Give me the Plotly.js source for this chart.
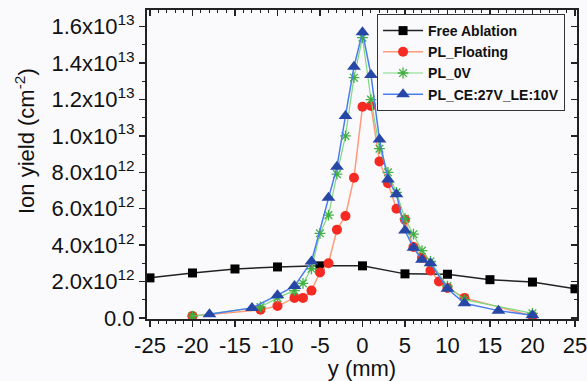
<!DOCTYPE html>
<html><head><meta charset="utf-8">
<script src="https://cdn.plot.ly/plotly-3.0.1.min.js"></script>
<style>html,body{margin:0;padding:0;background:#fafafc;}</style>
</head><body><div id="chart" style="width:587px;height:381px;"></div>
<script>
// Free Ablation
const freeX = [-25,-20,-15,-10,-5,0,5,10,15,20,25];
const freeY = [2.2e12,2.47e12,2.69e12,2.8e12,2.86e12,2.86e12,2.42e12,2.4e12,2.1e12,1.97e12,1.6e12];
// PL_Floating
const floatX = [-20,-12,-10,-8,-7,-6,-5,-4,-3,-2,-1,0,1,2,3,4,5,6,7,8,9,10,12,20];
const floatY = [0.1e12,0.45e12,0.65e12,1.1e12,1.1e12,1.5e12,2.5e12,3.0e12,4.85e12,5.6e12,7.7e12,11.6e12,11.65e12,8.6e12,7.4e12,6.0e12,5.4e12,3.9e12,3.3e12,2.6e12,2.0e12,1.65e12,1.1e12,0.1e12];
// PL_0V
const zeroX = [-20,-12,-10,-8,-7,-6,-5,-4,-3,-2,-1,0,1,2,3,4,5,6,7,8,10,12,20];
const zeroY = [0.1e12,0.6e12,1.1e12,1.5e12,1.9e12,2.7e12,4.65e12,5.65e12,7.9e12,10.0e12,13.2e12,15.4e12,12.0e12,9.3e12,8.0e12,6.9e12,5.45e12,4.6e12,3.7e12,3.1e12,1.75e12,1.0e12,0.25e12];
// PL_CE:27V_LE:10V
const ceX = [-18,-13,-10,-8,-6,-4,-3,-2,-1,0,1,2,3,4,5,6,7,8,10,12,16,20];
const ceY = [0.2e12,0.55e12,1.25e12,1.75e12,3.1e12,6.6e12,8.3e12,11.1e12,13.8e12,15.7e12,13.35e12,9.8e12,7.6e12,6.8e12,4.8e12,3.85e12,3.2e12,3.0e12,1.6e12,0.8e12,0.4e12,0.15e12];
// tick labels
const yTickVals = [0,2e12,4e12,6e12,8e12,1e13,1.2e13,1.4e13,1.6e13];
const yTickText = ["0.0","2.0x10<sup>12</sup>","4.0x10<sup>12</sup>","6.0x10<sup>12</sup>","8.0x10<sup>12</sup>","1.0x10<sup>13</sup>","1.2x10<sup>13</sup>","1.4x10<sup>13</sup>","1.6x10<sup>13</sup>"];
const xTickVals = [-25,-20,-15,-10,-5,0,5,10,15,20,25];
const xTickText = ["-25","-20","-15","-10","-5","0","5","10","15","20","25"];
const xTitle = "y (mm)";
const yTitle = "Ion yield (cm<sup>-2</sup>)";

const xr = [-25.35, 25.24];
const yr = [-0.06e12, 1.692e13];

const traces = [
  {x: freeX, y: freeY, name: "Free Ablation", mode: "lines+markers",
   line: {color: "#222222", width: 1.5},
   marker: {symbol: "square", size: 9, color: "#000000"}},
  {x: floatX, y: floatY, name: "PL_Floating", mode: "lines+markers",
   line: {color: "#ff9a7a", width: 1.5},
   marker: {symbol: "circle", size: 10, color: "#f52a22"}},
  {x: zeroX, y: zeroY, name: "PL_0V", mode: "lines+markers",
   line: {color: "#7ed87e", width: 1.2},
   marker: {symbol: "asterisk-open", size: 9, color: "#40b040", line: {color: "#40b040", width: 1.3}}},
  {x: ceX, y: ceY, name: "PL_CE:27V_LE:10V", mode: "lines+markers",
   line: {color: "#4a7cf0", width: 1.5},
   marker: {symbol: "triangle-up", size: 12, color: "#2747a6"}},
  {x: [0], y: [0], xaxis: "x2", yaxis: "y2", showlegend: false, hoverinfo: "skip",
   mode: "markers", marker: {opacity: 0}}
];

const fam = "Liberation Sans, Arial, sans-serif";
const tickFont = {family: fam, size: 22, color: "#111"};
const layout = {
  width: 587, height: 381,
  margin: {l: 147, r: 10, t: 10, b: 62},
  paper_bgcolor: "#fafafc", plot_bgcolor: "#fafafc",
  showlegend: true,
  legend: {x: 0.535, y: 0.987, xanchor: "left", yanchor: "top",
           bgcolor: "#fafafc", bordercolor: "#333", borderwidth: 1,
           font: {family: fam, size: 14, color: "#111", weight: "bold"},
           tracegroupgap: 0, itemwidth: 40},
  annotations: [
    {text: yTitle, textangle: -90, xref: "paper", yref: "paper", x: -0.2837, y: 0.576,
     xanchor: "center", yanchor: "middle", showarrow: false,
     font: {family: fam, size: 22, color: "#111"}}
  ],
  xaxis: {range: xr, tickmode: "array", tickvals: xTickVals, ticktext: xTickText,
          ticks: "outside", ticklen: 6, tickwidth: 1.5, tickcolor: "#222", ticklabeloverflow: "allow",
          showline: true, linecolor: "#222", linewidth: 2, showgrid: false, zeroline: false,
          minor: {ticks: "outside", dtick: 1, tick0: 0, ticklen: 3, tickwidth: 1, tickcolor: "#222", showgrid: false},
          tickfont: tickFont,
          title: {text: xTitle, font: {family: fam, size: 22, color: "#111"}, standoff: 2}},
  yaxis: {range: yr, tickmode: "array", tickvals: yTickVals, ticktext: yTickText,
          ticks: "outside", ticklen: 6, tickwidth: 1.5, tickcolor: "#222", ticklabeloverflow: "allow",
          showline: true, linecolor: "#222", linewidth: 2, showgrid: false, zeroline: false,
          minor: {ticks: "outside", dtick: 1e12, tick0: 0, ticklen: 3, tickwidth: 1, tickcolor: "#222", showgrid: false},
          tickfont: tickFont},
  xaxis2: {range: xr, overlaying: "x", side: "top", tickmode: "array", tickvals: xTickVals,
           showticklabels: false, ticks: "inside", ticklen: 6, tickwidth: 1.5, tickcolor: "#222",
           showline: true, linecolor: "#222", linewidth: 2, showgrid: false, zeroline: false,
           minor: {ticks: "inside", dtick: 1, tick0: 0, ticklen: 3, tickwidth: 1, tickcolor: "#222", showgrid: false}},
  yaxis2: {range: yr, overlaying: "y", side: "right", tickmode: "array", tickvals: yTickVals,
           showticklabels: false, ticks: "inside", ticklen: 6, tickwidth: 1.5, tickcolor: "#222",
           showline: true, linecolor: "#222", linewidth: 2, showgrid: false, zeroline: false,
           minor: {ticks: "inside", dtick: 1e12, tick0: 0, ticklen: 3, tickwidth: 1, tickcolor: "#222", showgrid: false}}
};
Plotly.newPlot("chart", traces, layout, {staticPlot: true, displayModeBar: false});
</script></body></html>
